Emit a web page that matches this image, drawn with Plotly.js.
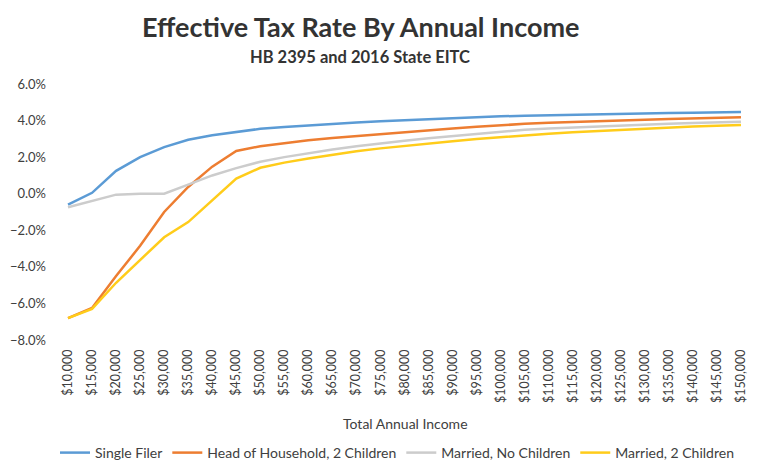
<!DOCTYPE html>
<html><head><meta charset="utf-8">
<script src="https://cdn.plot.ly/plotly-3.0.1.min.js"></script>
<style>html,body{margin:0;padding:0;background:#fff}#chart{width:768px;height:463px}</style>
</head><body><div id="chart"></div>
<script>
const incomes = ["$10,000","$15,000","$20,000","$25,000","$30,000","$35,000","$40,000","$45,000","$50,000","$55,000","$60,000","$65,000","$70,000","$75,000","$80,000","$85,000","$90,000","$95,000","$100,000","$105,000","$110,000","$115,000","$120,000","$125,000","$130,000","$135,000","$140,000","$145,000","$150,000"];
const singleFiler = [-0.6,0.05,1.25,2.0,2.55,2.95,3.2,3.38,3.55,3.65,3.74,3.82,3.9,3.96,4.02,4.08,4.13,4.18,4.23,4.27,4.3,4.32,4.35,4.37,4.39,4.41,4.43,4.45,4.47];
const headOfHousehold = [-6.8,-6.25,-4.5,-2.85,-1.0,0.37,1.48,2.34,2.6,2.78,2.93,3.05,3.16,3.26,3.36,3.46,3.56,3.66,3.76,3.82,3.88,3.93,3.97,4.01,4.05,4.09,4.12,4.15,4.18];
const marriedNoChildren = [-0.74,-0.4,-0.05,0.0,0.0,0.5,1.0,1.4,1.75,2.0,2.22,2.42,2.6,2.76,2.9,3.03,3.15,3.28,3.42,3.5,3.57,3.63,3.69,3.74,3.79,3.83,3.87,3.9,3.93];
const married2Children = [-6.8,-6.3,-4.87,-3.6,-2.38,-1.55,-0.37,0.83,1.42,1.7,1.93,2.13,2.32,2.48,2.62,2.75,2.87,2.99,3.1,3.2,3.28,3.36,3.43,3.5,3.56,3.62,3.67,3.72,3.76];
const seriesNames = ["Single Filer","Head of Household, 2 Children","Married, No Children","Married, 2 Children"];
const colors = ["#5B9BD5","#ED7D31","#CCCCCC","#FFCC1A"];
const allSeries = [singleFiler, headOfHousehold, marriedNoChildren, married2Children];
const titleText = "Effective Tax Rate By Annual Income";
const subtitleText = "HB 2395 and 2016 State EITC";
const xTitleText = "Total Annual Income";

const traces = allSeries.map((s,i)=>({
  x: incomes, y: s, type:"scatter", mode:"lines", name: seriesNames[i],
  line:{color:colors[i], width:2.5}, hoverinfo:"skip"
}));

// plot area: left 56, width 697, top 84, height 256
const W = 697, H = 256, L = 56, T = 84;
const px = x => (x - L) / W;
const py = y => (T + H - y) / H;

const layout = {
  width:768, height:463,
  margin:{l:L,r:768-L-W,t:T,b:463-T-H},
  paper_bgcolor:"#fff", plot_bgcolor:"#fff",
  font:{family:"Lato, 'Open Sans', sans-serif", color:"#404040", size:12},
  xaxis:{type:"category", range:[-0.5,28.5], showgrid:false, zeroline:false, showline:false, automargin:false,
    tickangle:-90, ticks:"", ticklabelstandoff:6, tickfont:{size:12.5, color:"#404040"}},
  yaxis:{range:[-8,6], dtick:2, tickformat:".1f", ticksuffix:"%", showgrid:false, zeroline:false, showline:false,
    automargin:false, ticks:"", ticklabelstandoff:9, tickfont:{size:13, color:"#404040"}},
  legend:{orientation:"h", xref:"container", yref:"container", x:397/768, xanchor:"center", y:(463-453)/463, yanchor:"middle",
    font:{size:14, color:"#404040"}},
  annotations:[
    {text:"<b>"+titleText+"</b>", xref:"paper", yref:"paper", x:px(360), y:py(26), showarrow:false,
     font:{size:27, color:"#333", family:"Lato, sans-serif"}, xanchor:"center", yanchor:"middle"},
    {text:"<b>"+subtitleText+"</b>", xref:"paper", yref:"paper", x:px(360), y:py(57), showarrow:false,
     font:{size:16.5, color:"#333", family:"Lato, sans-serif"}, xanchor:"center", yanchor:"middle"},
    {text:xTitleText, xref:"paper", yref:"paper", x:px(405), y:py(423), showarrow:false,
     font:{size:14, color:"#404040"}, xanchor:"center", yanchor:"middle"}
  ]
};
Plotly.newPlot("chart", traces, layout, {staticPlot:true, displayModeBar:false});
</script></body></html>
